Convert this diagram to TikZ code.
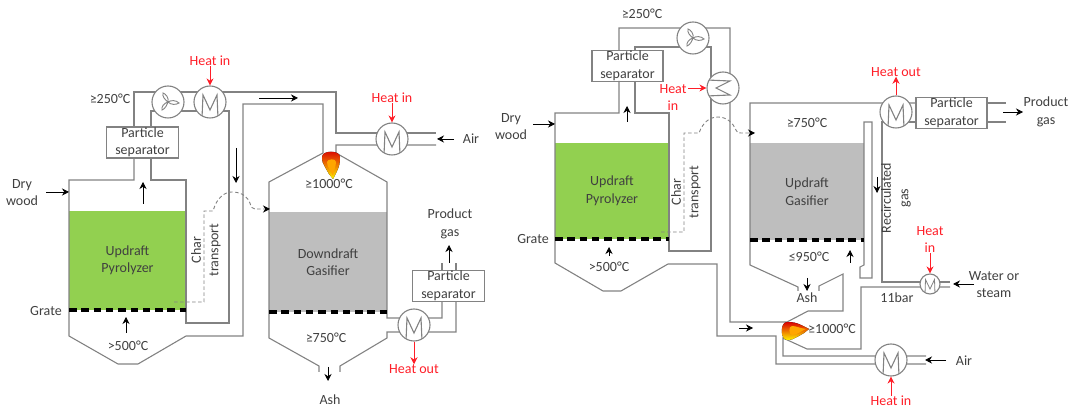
\documentclass[tikz,border=0pt]{standalone}
\usepackage{fontspec}
\setmainfont{Carlito}
\usetikzlibrary{arrows.meta, positioning, backgrounds, calc}
\definecolor{pipegray}{RGB}{130, 130, 130}
\definecolor{txtgray}{RGB}{64, 64, 64}
\definecolor{biogreen}{RGB}{146, 208, 80}
\definecolor{bedgray}{RGB}{190, 190, 190}
\definecolor{heatred}{RGB}{255, 30, 40}

\begin{document}
\begin{tikzpicture}[
  x=1pt, y=-1pt,
  lbl/.style={font=\fontsize{14}{17.5}\selectfont, text=txtgray, align=center, inner sep=0pt},
  redlbl/.style={lbl, text=heatred},
  bed/.style={lbl, minimum width=#1, draw=none},
  sepbox/.style={lbl, rectangle, draw=pipegray, line width=1.1pt, fill=white, minimum width=72pt, minimum height=31pt},
  pipe/.style={draw=pipegray, line width=1.1pt, line join=miter},
  grate/.style={black, line width=3.2pt, dash pattern=on 7.5pt off 4.8pt},
  arr/.style={-{Stealth[length=7pt, width=7pt]}, black, line width=0.7pt},
  heat/.style={-{Stealth[length=7pt, width=7pt]}, heatred, line width=0.8pt},
  chardash/.style={draw=pipegray, line width=0.9pt, dash pattern=on 3.5pt off 2.5pt, -{Stealth[length=7pt, width=7pt, black]}},
  hxbody/.style={circle, draw=pipegray, line width=1.1pt, fill=white, inner sep=0pt},
  hxm/.style={hxbody, minimum size=32pt, path picture={
    \draw[pipe, shift={(path picture bounding box.center)}] (-8,16) -- (-7,-7) -- (0,8) -- (7,-7) -- (8,16);}},
  hxs/.style={hxbody, minimum size=20pt, path picture={
    \draw[pipe, line width=0.8pt, shift={(path picture bounding box.center)}] (-5,10) -- (-4.5,-4.5) -- (0,5) -- (4.5,-4.5) -- (5,10);}},
  hxc/.style={hxbody, minimum size=32pt, path picture={
    \draw[pipe, shift={(path picture bounding box.center)}] (-16,-8) -- (7,-7) -- (-7,0) -- (7,7) -- (-16,8);}},
  fan/.style={hxbody, minimum size=32pt, path picture={
    \draw[pipe, line width=0.9pt, shift={(path picture bounding box.center)}]
      (0,0) .. controls (-3,-2) and (-6,-6) .. (-5,-9) .. controls (-2,-8) and (1,-4) .. (0,0)
      (0,0) .. controls (3,-2) and (8,-2) .. (11,1) .. controls (8,3) and (3,3) .. (0,0)
      (0,0) .. controls (-1,3) and (-3,7) .. (-6,8) .. controls (-7,5) and (-4,1) .. (0,0);}},
  flame/.pic={
    \fill[top color=red!85!black, middle color=orange, bottom color=yellow!90!orange]
      (-9,5) .. controls (-9,-2) and (9,-2) .. (9,5) .. controls (9,11) and (8,15) .. (6,19)
      .. controls (5,22) and (3,24) .. (2,27) .. controls (1,24) and (-1,25) .. (-2,22)
      .. controls (-3,19) and (-5,18) .. (-6,15) .. controls (-8,12) and (-9,9) .. (-9,5) -- cycle;
    \fill[orange!70!yellow] (-4,10) .. controls (-4,7) and (5,6) .. (5,10)
      .. controls (5,14) and (3,17) .. (2,24) .. controls (0,19) and (-4,15) .. (-4,10) -- cycle;
  }
]
\useasboundingbox (0,0) rectangle (1069,411);

\node[bed=117pt, minimum height=99pt, fill=biogreen] (pyroL) at (127.5,260.5) {Updraft\\Pyrolyzer};
\node[bed=118pt, minimum height=100pt, fill=bedgray] (gasL) at (328,262) {Downdraft\\Gasifier};
\node[bed=114pt, minimum height=96pt, fill=biogreen] (pyroR) at (612,191) {Updraft\\Pyrolyzer};
\node[bed=114pt, minimum height=97pt, fill=bedgray] (gasR) at (807,191.5) {Updraft\\Gasifier};

\node[sepbox] (sepL) at (142.5,142.5) {Particle\\separator};
\node[sepbox] (sepG) at (448.5,286) {Particle\\separator};
\node[sepbox, minimum width=71pt] (sepR) at (627.5,66) {Particle\\separator};
\node[sepbox, minimum width=71pt] (sepH) at (951.5,113) {Particle\\separator};

% left plant
\draw[pipe] (134,158) -- (134,180) -- (69,180) -- (69,336) -- (118,364) -- (138,364) -- (186,336) -- (243,336) -- (243,104) -- (323,104) -- (323,153) -- (269,182) -- (269,338) -- (319,366) -- (319,372);
\draw[pipe] (151,158) -- (151,180) -- (186,180) -- (186,323) -- (229,323) -- (229,111) -- (151,111) -- (151,127);
\draw[pipe] (134,127) -- (134,92) -- (336,92) -- (336,133) -- (436,133);
\draw[pipe] (436,145) -- (336,145) -- (336,153) -- (387,182) -- (387,318) -- (442,318) -- (442,302);
\draw[pipe] (456,302) -- (456,332) -- (387,332) -- (387,338) -- (340,366) -- (340,372);
\draw[pipe] (442,270) -- (442,263);
\draw[pipe] (456,270) -- (456,263);

% right plant
\draw[pipe] (619,81) -- (619,113) -- (555,113) -- (555,263) -- (603,291) -- (621,291) -- (668,264) -- (717,264) -- (717,336) -- (776,336) -- (776,364) -- (926,364);
\draw[pipe] (635,81) -- (635,113) -- (669,113) -- (669,251) -- (711,251) -- (711,47) -- (635,47) -- (635,51);
\draw[pipe] (619,51) -- (619,28) -- (730,28) -- (730,322) -- (787,322) -- (808,311) -- (843,311) -- (843,274) -- (819,286) -- (819,291);
\draw[pipe] (798,291) -- (798,287) -- (750,265) -- (750,103) -- (916,103);
\draw[pipe] (864,122) -- (864,265) -- (860,267) -- (860,278) -- (872,278) -- (872,122) -- cycle;
\draw[pipe] (916,122) -- (882,122) -- (882,282) -- (950,282);
\draw[pipe] (950,287) -- (861,287) -- (861,349) -- (807,349) -- (783,338) -- (783,356) -- (926,356);
\draw[pipe] (987,103) -- (1006,103);
\draw[pipe] (987,122) -- (1006,122);

\draw[grate] (69,310) -- (186,310);
\draw[grate] (269,312) -- (387,312);
\draw[grate] (555,239) -- (669,239);
\draw[grate] (750,240) -- (864,240);

\node[fan] (fanL) at (168,102) {};
\node[hxm] (hxL) at (210,102) {};
\node[hxm] (hxA) at (392,139) {};
\node[hxm] (hxG) at (414,325) {};
\node[fan] (fanR) at (693,38) {};
\node[hxc] (hxR) at (723,88) {};
\node[hxm] (hxH) at (896,112) {};
\node[hxs] (hxW) at (930,284) {};
\node[hxm] (hxB) at (891,360) {};

\pic at (331,152) {flame};
\pic[rotate=90] at (782,331) {flame};

\node[redlbl] (heatL) at (210,61) {Heat in};
\node[redlbl] (heatA) at (392,98) {Heat in};
\node[redlbl] (heatG) at (414,369) {Heat out};
\node[redlbl] (heatR) at (673,97.5) {Heat\\in};
\node[redlbl] (heatH) at (896,72) {Heat out};
\node[redlbl] (heatW) at (930,239.5) {Heat\\in};
\node[redlbl] (heatB) at (891,401) {Heat in};

\coordinate (heatRa) at (688,88);
\draw[heat] (heatL) -- (hxL);
\draw[heat] (heatA) -- (hxA);
\draw[heat] (hxG) -- (heatG);
\draw[heat] (heatRa) -- (hxR);
\draw[heat] (hxH) -- (heatH);
\draw[heat] (heatW) -- (hxW);
\draw[heat] (heatB) -- (hxB);

\node[lbl] (dryL) at (22,192.5) {Dry\\wood};
\node[lbl] (tempL) at (110,99) {≥250°C};
\node[lbl] (grateL) at (46,311) {Grate};
\node[lbl] (hotL) at (128,346) {>500°C};
\node[lbl, rotate=90] (charL) at (206,250) {Char\\transport};
\node[lbl] (fireL) at (329,184) {≥1000°C};
\node[lbl] (tempG) at (326,338) {≥750°C};
\node[lbl] (ashL) at (330,400) {Ash};
\node[lbl] (airL) at (471,139) {Air};
\node[lbl] (prodL) at (450,224) {Product\\gas};

\node[lbl] (dryR) at (511,126.5) {Dry\\wood};
\node[lbl] (tempR) at (642,14) {≥250°C};
\node[lbl] (grateR) at (533,239) {Grate};
\node[lbl] (hotR) at (609,267) {>500°C};
\node[lbl, rotate=90] (charR) at (686,192) {Char\\transport};
\node[lbl] (tempU) at (807,123) {≥750°C};
\node[lbl] (tempD) at (809,257) {≤950°C};
\node[lbl] (ashR) at (807,298) {Ash};
\node[lbl] (fireR) at (832,329) {≥1000°C};
\node[lbl, rotate=90] (recirc) at (896,198) {Recirculated\\gas};
\node[lbl] (barR) at (897,298) {11bar};
\node[lbl] (water) at (994,284.5) {Water or\\steam};
\node[lbl] (airR) at (964,361) {Air};
\node[lbl] (prodR) at (1046,112) {Product\\gas};

\coordinate (woodLa) at (46,192);
\coordinate (woodLb) at (69,192);
\draw[arr] (woodLa) -- (woodLb);
\coordinate (riseLa) at (143,204);
\coordinate (riseLb) at (143,182);
\draw[arr] (riseLa) -- (riseLb);
\coordinate (blastLa) at (126,333);
\coordinate (blastLb) at (126,317);
\draw[arr] (blastLa) -- (blastLb);
\coordinate (downLa) at (236,148);
\coordinate (downLb) at (236,183);
\draw[arr] (downLa) -- (downLb);
\coordinate (topLa) at (259,98);
\coordinate (topLb) at (298,98);
\draw[arr] (topLa) -- (topLb);
\coordinate (airLa) at (454,139);
\coordinate (airLb) at (437,139);
\draw[arr] (airLa) -- (airLb);
\coordinate (ashLa) at (328,367);
\coordinate (ashLb) at (328,381);
\draw[arr] (ashLa) -- (ashLb);
\coordinate (prodLa) at (449,263);
\coordinate (prodLb) at (449,245);
\draw[arr] (prodLa) -- (prodLb);

\coordinate (woodRa) at (533,124);
\coordinate (woodRb) at (555,124);
\draw[arr] (woodRa) -- (woodRb);
\coordinate (riseRa) at (627,122);
\coordinate (riseRb) at (627,106);
\draw[arr] (riseRa) -- (riseRb);
\coordinate (blastRa) at (609,256);
\coordinate (blastRb) at (609,247);
\draw[arr] (blastRa) -- (blastRb);
\coordinate (upRa) at (850,263);
\coordinate (upRb) at (850,250);
\draw[arr] (upRa) -- (upRb);
\coordinate (ashRa) at (807,278);
\coordinate (ashRb) at (807,291);
\draw[arr] (ashRa) -- (ashRb);
\coordinate (flowRa) at (739,328);
\coordinate (flowRb) at (753,328);
\draw[arr] (flowRa) -- (flowRb);
\coordinate (recRa) at (877,177);
\coordinate (recRb) at (877,193);
\draw[arr] (recRa) -- (recRb);
\coordinate (airRa) at (946,360);
\coordinate (airRb) at (925,360);
\draw[arr] (airRa) -- (airRb);
\coordinate (waterRa) at (974,284);
\coordinate (waterRb) at (953,284);
\draw[arr] (waterRa) -- (waterRb);
\coordinate (prodRa) at (1003,112);
\coordinate (prodRb) at (1023,112);
\draw[arr] (prodRa) -- (prodRb);

\coordinate (charLa) at (174,302);
\coordinate (charLb) at (270,209);
\draw[chardash] (charLa) -- (204,302) -- (204,211) -- (213,211) .. controls (217,197) and (225,192) .. (232,192) .. controls (243,192) and (248,198) .. (250,203) .. controls (251,208) and (252,208) .. (255,209) -- (charLb);
\coordinate (charRa) at (661,232);
\coordinate (charRb) at (755,133);
\draw[chardash] (charRa) -- (684,232) -- (684,133) -- (699,133) .. controls (703,122) and (710,117) .. (718,117) .. controls (727,117) and (733,123) .. (736,130) .. controls (737,133) and (738,133) .. (741,133) -- (charRb);

\end{tikzpicture}
\end{document}
